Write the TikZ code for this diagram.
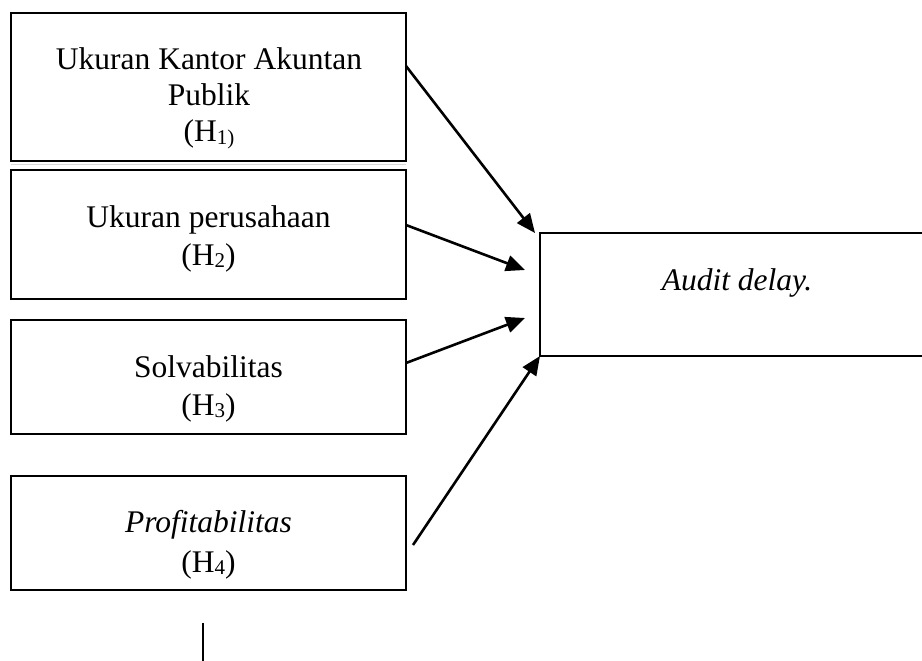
\documentclass[tikz,border=0pt]{standalone}
\usepackage{fontspec}
\setmainfont{Liberation Serif}
\usetikzlibrary{arrows.meta,calc}
\newcommand{\hsub}[1]{\raisebox{-2pt}{\fontsize{21}{21}\selectfont #1}}
\begin{document}
\begin{tikzpicture}[x=1pt,y=-1pt,
  box/.style={draw, line width=2pt, inner sep=0pt, outer sep=0pt},
  txt/.style={anchor=base, inner sep=0pt, font=\fontsize{31.5}{36}\selectfont},
  arr/.style={line width=2.6pt, -{Triangle[length=19pt,width=16pt]}}]
\useasboundingbox (0,0) rectangle (922,661);
\clip (0,0) rectangle (922,661);
% boxes
\node[box, minimum width=395pt, minimum height=148pt] (b1) at (208.5,87) {};
\node[box, minimum width=395pt, minimum height=129pt] (b2) at (208.5,234.5) {};
\node[box, minimum width=395pt, minimum height=114pt] (b3) at (208.5,377) {};
\node[box, minimum width=395pt, minimum height=114pt] (b4) at (208.5,533) {};
\node[box, minimum width=400pt, minimum height=123pt] (ad) at (740,294.5) {};
\draw[black!15, line width=1.5pt] ($(b1.south west)+(0,3.5)$) -- ($(b1.south east)+(0,3.5)$);
% texts
\node[txt] (t1a) at (209,70) {Ukuran Kantor Akuntan};
\node[txt] (t1b) at (209,106) {Publik};
\node[txt] (t1c) at (209,142) {(H\hsub{1)}};
\node[txt] (t2a) at (208.5,227) {Ukuran perusahaan};
\node[txt] (t2b) at (208.5,265) {(H\hsub{2})};
\node[txt] (t3a) at (208.5,377) {Solvabilitas};
\node[txt] (t3b) at (208.5,415) {(H\hsub{3})};
\node[txt] (t4a) at (208.5,532) {\itshape Profitabilitas};
\node[txt] (t4b) at (208.5,572) {(H\hsub{4})};
\node[txt] (tad) at (737,290) {\itshape Audit delay.};
% connector ends
\coordinate (s1) at (406,66);
\coordinate (e1) at (535,233);
\coordinate (s2) at (406,225);
\coordinate (e2) at (525,270);
\coordinate (s3) at (406,363);
\coordinate (e3) at (525,318);
\coordinate (s4) at (413,545);
\coordinate (e4) at (ad.south west);
\draw[arr] (s1) -- (e1);
\draw[arr] (s2) -- (e2);
\draw[arr] (s3) -- (e3);
\draw[arr] (s4) -- (e4);
% small vertical line
\coordinate (v1) at (203,623);
\coordinate (v2) at (203,661);
\draw[line width=1.6pt] (v1) -- (v2);
\end{tikzpicture}
\end{document}
